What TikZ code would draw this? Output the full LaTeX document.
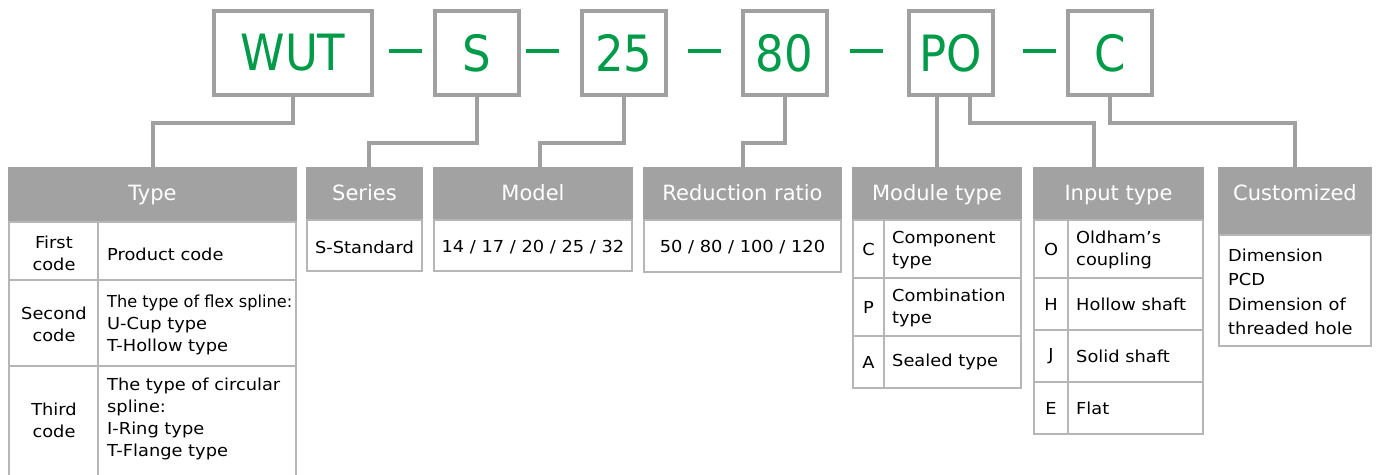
\documentclass[tikz,border=0pt]{standalone}
\usepackage{fontspec}
\setmainfont{DejaVu Sans}
\newfontfamily\codefont[FakeStretch=0.9]{DejaVu Sans}
\newfontfamily\bodyfont[FakeStretch=1.08]{DejaVu Sans}
\newfontfamily\narrowbody[FakeStretch=0.98]{DejaVu Sans}
\usetikzlibrary{calc}
\definecolor{codegreen}{RGB}{0,155,72}
\definecolor{framegray}{RGB}{160,160,160}
\definecolor{headgray}{RGB}{162,162,162}
\definecolor{cellline}{RGB}{182,182,182}
\begin{document}
\begin{tikzpicture}[x=1pt,y=-1pt,
  codebox/.style={draw=framegray,line width=4pt,inner sep=0pt,outer sep=0pt,
    minimum width=84pt,minimum height=84pt,
    font=\codefont\fontsize{50}{50}\selectfont,text=codegreen},
  widebox/.style={codebox,minimum width=158pt},
  sepline/.style={draw=codegreen,line width=4pt},
  conn/.style={draw=framegray,line width=4pt},
  head/.style={fill=headgray,inner sep=0pt,outer sep=0pt,anchor=north west},
  headtext/.style={text=white,font=\fontsize{21}{21}\selectfont,inner sep=0pt,
    text height=15.5pt,text depth=5pt},
  cell/.style={draw=cellline,line width=1.5pt},
  celltext/.style={font=\bodyfont\fontsize{16.5}{22}\selectfont,inner sep=0pt,align=left,anchor=west},
  codeletter/.style={font=\bodyfont\fontsize{16.5}{22}\selectfont,inner sep=0pt},
  centertext/.style={font=\bodyfont\fontsize{16.5}{22}\selectfont,inner sep=0pt,align=center}]
\useasboundingbox (0,0) rectangle (1378,474);

% ---- code boxes ----
\node[widebox] (wut) at (293,53) {WUT};
\node[codebox] (s)   at (477,53) {S};
\node[codebox] (n25) at (624,53) {25};
\node[codebox] (n80) at (784.5,53) {80};
\node[codebox] (po)  at (951,53) {PO};
\node[codebox] (c)   at (1110,53) {C};

% ---- separators ----
\draw[sepline] (389,51.3) -- (422,51.3);
\draw[sepline] (526,51.3) -- (559,51.3);
\draw[sepline] (688,51.3) -- (721,51.3);
\draw[sepline] (850,51.3) -- (883,51.3);
\draw[sepline] (1023,51.3) -- (1056,51.3);

% ---- table headers ----
\node[head,minimum width=289pt,minimum height=55.5pt] (hType)   at (8,166.5) {};
\node[head,minimum width=117pt,minimum height=53.5pt] (hSeries) at (306,166.5) {};
\node[head,minimum width=200pt,minimum height=53.5pt] (hModel)  at (433,166.5) {};
\node[head,minimum width=199pt,minimum height=53.5pt] (hRed)    at (643,166.5) {};
\node[head,minimum width=170pt,minimum height=53.5pt] (hModule) at (852,166.5) {};
\node[head,minimum width=171pt,minimum height=53.5pt] (hInput)  at (1033,166.5) {};
\node[head,minimum width=154pt,minimum height=68.5pt] (hCust)   at (1218,166.5) {};

% ---- connectors ----
\draw[conn] (wut.south) -- ++(0,28) -| (hType.north);
\draw[conn] (s.south) -- ++(0,48) -| ([xshift=4pt]hSeries.north);
\draw[conn] (n25.south) -- ++(0,48) -| ([xshift=7pt]hModel.north);
\draw[conn] (n80.south) -- ++(0,48) -| (hRed.north);
\draw[conn] (hModule.north) -- (hModule.north |- po.south);
\draw[conn] ([xshift=19pt]po.south) -- ++(0,28) -| ([xshift=-24.5pt]hInput.north);
\draw[conn] (c.south) -- ++(0,28) -| (hCust.north);

% ---- header labels ----
\node[headtext] (tType)   at (152.5,194.75) {Type};
\node[headtext] (tSeries) at (364.5,194.75) {Series};
\node[headtext] (tModel)  at (533,194.75) {Model};
\node[headtext] (tRed)    at (742.5,194.75) {Reduction ratio};
\node[headtext] (tModule) at (937,194.75) {Module type};
\node[headtext] (tInput)  at (1118.5,194.75) {Input type};
\node[headtext] (tCust)   at (1295,194.75) {Customized};

% ---- Type table ----
\draw[cell] (9,222) rectangle (296,480);
\draw[cell] (98,222) -- (98,480);
\draw[cell] (9,280) -- (296,280);
\draw[cell] (9,366) -- (296,366);
\node[centertext] (k1) at (54,253) {First\\code};
\node[centertext] (k2) at (54,324) {Second\\code};
\node[centertext] (k3) at (54,420) {Third\\code};
\node[celltext] (d1) at (107,254) {Product code};
\node[celltext] (d2) at (107,325) {{\narrowbody The type of flex spline:}\\U-Cup type\\T-Hollow type};
\node[celltext] (d3) at (107,419) {The type of circular\\spline:\\I-Ring type\\T-Flange type};

% ---- Series / Model / Reduction ratio ----
\draw[cell] (307,220) rectangle (422,271);
\draw[cell] (434,220) rectangle (632,271);
\draw[cell] (643.75,220) rectangle (841,272);
\node[codeletter] (vSeries) at (364.5,247) {S-Standard};
\node[codeletter] (vModel)  at (533,247) {14 / 17 / 20 / 25 / 32};
\node[codeletter] (vRed)    at (742.5,247) {50 / 80 / 100 / 120};

% ---- Module type ----
\draw[cell] (853,220) rectangle (1021,388);
\draw[cell] (884,220) -- (884,388);
\draw[cell] (853,278) -- (1021,278);
\draw[cell] (853,336) -- (1021,336);
\node[codeletter] (mC) at (868.5,249) {C};
\node[codeletter] (mP) at (868.5,307) {P};
\node[codeletter] (mA) at (868.5,362) {A};
\node[celltext] (mC1) at (892,250) {Component\\type};
\node[celltext] (mP1) at (892,308) {Combination\\type};
\node[celltext] (mA1) at (892,362) {Sealed type};

% ---- Input type ----
\draw[cell] (1034,220) rectangle (1203,434);
\draw[cell] (1068,220) -- (1068,434);
\draw[cell] (1034,278) -- (1203,278);
\draw[cell] (1034,330) -- (1203,330);
\draw[cell] (1034,382) -- (1203,382);
\node[codeletter] (iO) at (1051,249) {O};
\node[codeletter] (iH) at (1051,304) {H};
\node[codeletter] (iJ) at (1051,356) {J};
\node[codeletter] (iE) at (1051,408) {E};
\node[celltext] (iO1) at (1076,250) {Oldham’s\\coupling};
\node[celltext] (iH1) at (1076,304) {Hollow shaft};
\node[celltext] (iJ1) at (1076,356) {Solid shaft};
\node[celltext] (iE1) at (1076,408) {Flat};

% ---- Customized ----
\draw[cell] (1219,235) rectangle (1371,346);
\node[celltext,font=\bodyfont\fontsize{16.5}{24.5}\selectfont] (cust) at (1228,292) {Dimension\\PCD\\Dimension of\\threaded hole};
\end{tikzpicture}
\end{document}
